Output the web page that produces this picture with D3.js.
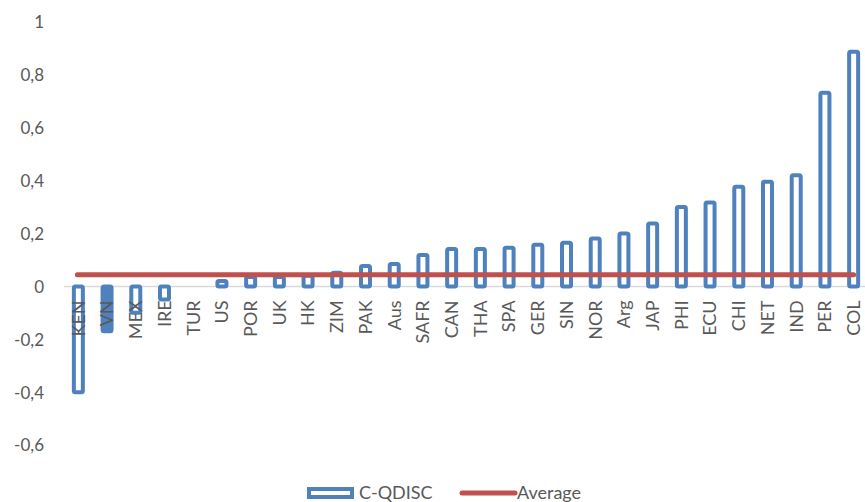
<!DOCTYPE html>
<html>
<head>
<meta charset="utf-8">
<script src="https://cdn.jsdelivr.net/npm/d3@7"></script>
<style>
  html, body { margin: 0; padding: 0; background: #fff; }
  svg { display: block; }
  text { font-family: Lato, "Liberation Sans", sans-serif; fill: #595959; }
</style>
</head>
<body>
<svg id="chart" width="865" height="502"></svg>
<script>
// Countries, sorted by C-QDISC
const categories = ["KEN","VN","MEX","IRE","TUR","US","POR","UK","HK","ZIM","PAK","Aus","SAFR","CAN","THA","SPA","GER","SIN","NOR","Arg","JAP","PHI","ECU","CHI","NET","IND","PER","COL"];
const cqdisc = [-0.40,-0.17,-0.10,-0.05,0,0.02,0.035,0.035,0.04,0.052,0.077,0.085,0.119,0.141,0.141,0.146,0.157,0.165,0.181,0.20,0.238,0.30,0.317,0.377,0.396,0.42,0.732,0.887];
const averageValue = 0.044;
const solidCategories = ["VN"];
const yTicks = [-0.6,-0.4,-0.2,0,0.2,0.4,0.6,0.8,1];
const seriesNames = ["C-QDISC","Average"];

const blue = "#4f81bd", red = "#c0504d";
const svg = d3.select("#chart");

const x = d3.scaleBand().domain(categories).range([64, 868]).padding(0);
const y = d3.scaleLinear().domain([-0.6, 1]).range([445, 22]);

// Decimal comma and a plain hyphen for negatives
const fmt = d => d === 0 ? "0" : String(d).replace(".", ",");

// Value axis labels (no line, no ticks)
const yAxis = svg.append("g").attr("transform", "translate(44,0)")
  .call(d3.axisLeft(y).tickValues(yTicks).tickFormat(fmt).tickSize(0).tickPadding(0));
yAxis.select(".domain").remove();
yAxis.selectAll("text").style("font-size", "17px").attr("fill", "#595959")
  .attr("font-family", "Lato, 'Liberation Sans', sans-serif").attr("dy", "0.35em");

// Zero line
svg.append("line").attr("x1", 64).attr("x2", 865)
  .attr("y1", y(0)).attr("y2", y(0))
  .attr("stroke", "#d9d9d9").attr("stroke-width", 1.5);

// Outlined bars
const barW = 9;
svg.append("g").selectAll("rect").data(categories).join("rect")
  .attr("x", d => x(d) + x.bandwidth() / 2 - barW / 2)
  .attr("width", barW)
  .attr("y", (d, i) => y(Math.max(0, cqdisc[i])))
  .attr("height", (d, i) => Math.abs(y(cqdisc[i]) - y(0)))
  .attr("rx", 1.5)
  .attr("fill", d => solidCategories.includes(d) ? blue : "#fff")
  .attr("stroke", blue)
  .attr("stroke-width", 4)
  .attr("display", (d, i) => cqdisc[i] === 0 ? "none" : null);

// Category labels, rotated, drawn over the bars
const xAxis = svg.append("g").attr("transform", `translate(0,${y(0)})`)
  .call(d3.axisBottom(x).tickSize(0).tickPadding(0));
xAxis.select(".domain").remove();
xAxis.selectAll("text")
  .style("font-size", "18px")
  .attr("font-family", "Lato, 'Liberation Sans', sans-serif")
  .attr("fill", "#595959")
  .attr("transform", "rotate(-90)")
  .attr("text-anchor", "end")
  .attr("x", -14).attr("y", 0).attr("dy", "0.35em");

// Average line
const first = categories[0], last = categories[categories.length - 1];
svg.append("line")
  .attr("x1", x(first) + x.bandwidth() / 2 - 1)
  .attr("x2", x(last) + x.bandwidth() / 2)
  .attr("y1", y(averageValue)).attr("y2", y(averageValue))
  .attr("stroke", red).attr("stroke-width", 5).attr("stroke-linecap", "round");

// Legend
const lg = svg.append("g");
lg.append("rect").attr("x", 309).attr("y", 489).attr("width", 43).attr("height", 8)
  .attr("fill", "#fff").attr("stroke", blue).attr("stroke-width", 4);
lg.append("text").attr("x", 359).attr("y", 499).style("font-size", "18px").text(seriesNames[0]);
lg.append("line").attr("x1", 462).attr("x2", 515).attr("y1", 493).attr("y2", 493)
  .attr("stroke", red).attr("stroke-width", 5).attr("stroke-linecap", "round");
lg.append("text").attr("x", 517).attr("y", 499).style("font-size", "18px").text(seriesNames[1]);
</script>
</body>
</html>
